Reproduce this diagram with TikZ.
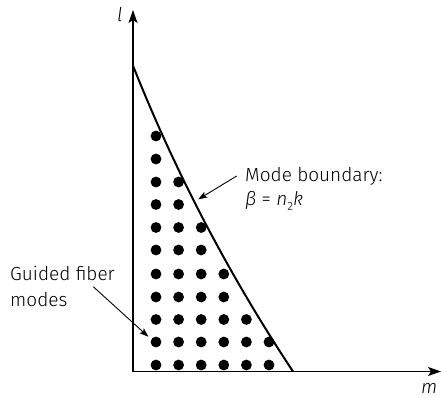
\documentclass[tikz,border=0pt]{standalone}
\usepackage{fontspec}
\setmainfont{Fira Sans Light}[ItalicFont={Fira Sans Light Italic}]
\usetikzlibrary{arrows.meta}
\begin{document}
\begin{tikzpicture}[x=1pt,y=-1pt,
  axis/.style={line width=1.2pt,-{Stealth[length=13pt,width=9pt,inset=3pt]}},
  bound/.style={line width=2pt},
  pointer/.style={line width=0.9pt,-{Stealth[length=9pt,width=6.5pt,inset=2pt]}},
  lbl/.style={anchor=base west,inner sep=0pt,font=\fontsize{19}{23}\selectfont},
  dot/.style={fill=black,draw=none}]
\useasboundingbox (0,0) rectangle (441,398);
% axes
\coordinate (O) at (133,371.5);
\coordinate (ytip) at (133,10);
\coordinate (xtip) at (441,371.5);
\draw[axis] (O) -- (ytip);
\draw[axis] (O) -- (xtip);
\node[lbl,font=\fontsize{19}{23}\selectfont\itshape] (l) at (117,22) {l};
\node[lbl,font=\fontsize{19}{23}\selectfont\itshape] (m) at (421,393) {m};
% boundary curve
\coordinate (ctop) at (133,65.7);
\coordinate (cbot) at (293,371.5);
\draw[bound] (ctop) .. controls (175.7,173) and (229,274.8) .. (cbot);
% dots
\foreach \y/\n in {136/1,159/1,182/2,204.5/2,227.5/3,250/3,274/4,297/4,319.5/5,342/6,365/6}{
  \foreach \i in {1,...,\n}{
    \fill[dot] ({156+(\i-1)*22.6},\y) circle (5.4);
  }
}
% labels
\node[lbl] (mb) at (245,181.7) {Mode boundary:};
\node[lbl] (beta) at (245,205.5) {{\itshape β} = {\itshape n}\raisebox{-0.25em}{\fontsize{12}{14}\selectfont 2}{\itshape k}};
\coordinate (bpt) at (198.3,199.3);
\draw[pointer] (236.7,176) -- (bpt);
\node[lbl] (g1) at (10,280) {Guided fiber};
\node[lbl] (g2) at (10,306) {modes};
\coordinate (gpt) at (148.3,336.7);
\draw[pointer] (93.3,286.7) -- (gpt);
\end{tikzpicture}
\end{document}
